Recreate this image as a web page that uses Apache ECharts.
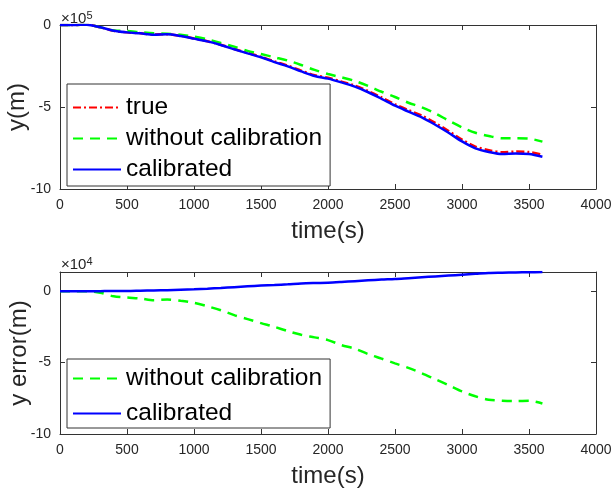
<!DOCTYPE html>
<html>
<head>
<meta charset="utf-8">
<script src="https://cdn.jsdelivr.net/npm/echarts@6/dist/echarts.min.js"></script>
<style>
  html, body { margin: 0; padding: 0; background: #fff; }
  #chart { width: 611px; height: 495px; }
</style>
</head>
<body>
<div id="chart"></div>
<script>
// time axis (s)
const timeSec = [0, 100, 200, 300, 400, 500, 600, 700, 800, 900, 1000, 1100, 1200, 1300, 1400, 1500, 1600, 1700, 1800,
  1900, 2000, 2100, 2200, 2300, 2400, 2500, 2600, 2700, 2800, 2900, 3000, 3100, 3200, 3300, 3400, 3500, 3600];

// y position, units of 1e5 m
const yTrue = [0, 0, 0.02, -0.14, -0.35, -0.45, -0.5, -0.58, -0.56, -0.66, -0.82, -0.99, -1.2, -1.46, -1.7, -1.94, -2.22, -2.48, -2.78,
  -3.06, -3.22, -3.45, -3.7, -4.03, -4.42, -4.84, -5.19, -5.53, -5.97, -6.46, -6.99, -7.42, -7.63, -7.76, -7.72, -7.75, -7.9];
const yNoCalib = [0, 0, 0.02, -0.14, -0.33, -0.37, -0.44, -0.5, -0.53, -0.59, -0.71, -0.87, -1.1, -1.32, -1.58, -1.77, -1.97, -2.17, -2.44,
  -2.74, -2.99, -3.19, -3.41, -3.72, -4.07, -4.39, -4.74, -5.02, -5.39, -5.83, -6.24, -6.57, -6.77, -6.91, -6.91, -6.93, -7.11];
const yCalib = [0, 0, 0.02, -0.14, -0.35, -0.45, -0.51, -0.59, -0.57, -0.67, -0.83, -1.0, -1.22, -1.48, -1.73, -1.97, -2.26, -2.52, -2.83,
  -3.11, -3.27, -3.5, -3.76, -4.1, -4.5, -4.92, -5.28, -5.63, -6.08, -6.57, -7.1, -7.52, -7.74, -7.87, -7.83, -7.87, -8.03];

// y error, units of 1e4 m
const errNoCalib = [0, 0, 0, -0.1, -0.35, -0.44, -0.51, -0.63, -0.58, -0.67, -0.81, -1.05, -1.33, -1.67, -1.95, -2.23, -2.49, -2.79, -3.05,
  -3.23, -3.42, -3.77, -4.02, -4.4, -4.72, -5.05, -5.37, -5.74, -6.16, -6.58, -7.02, -7.36, -7.6, -7.67, -7.7, -7.67, -7.86];
const errCalib = [0, 0, 0, 0.01, 0.02, 0.02, 0.04, 0.06, 0.08, 0.11, 0.14, 0.18, 0.23, 0.29, 0.35, 0.4, 0.44, 0.49, 0.55,
  0.58, 0.6, 0.65, 0.71, 0.77, 0.82, 0.86, 0.92, 0.98, 1.04, 1.1, 1.16, 1.22, 1.28, 1.3, 1.32, 1.33, 1.35];

const xTicks = [0, 500, 1000, 1500, 2000, 2500, 3000, 3500, 4000];
const yTicksTop = [-10, -5, 0];
const yTicksBottom = [-10, -5, 0];

const FONT = 'Liberation Sans, Arial, sans-serif';
const AXIS_COLOR = '#333';
const TEXT_COLOR = '#262626';

const pairs = (ys) => timeSec.map((t, i) => [t, ys[i]]);

const chart = echarts.init(document.getElementById('chart'), null, { renderer: 'canvas' });

function xAxisPair(gridIndex) {
  const base = {
    gridIndex: gridIndex,
    type: 'value',
    min: xTicks[0],
    max: xTicks[xTicks.length - 1],
    interval: 500,
    splitLine: { show: false },
    axisLine: { show: true, onZero: false, lineStyle: { color: AXIS_COLOR, width: 1 } },
    axisTick: { show: true, inside: true, length: 5, lineStyle: { color: AXIS_COLOR } }
  };
  return [
    Object.assign({}, base, {
      position: 'bottom',
      name: 'time(s)',
      nameLocation: 'middle',
      nameGap: 30,
      nameTextStyle: { fontFamily: FONT, fontSize: 24, color: TEXT_COLOR },
      axisLabel: { fontFamily: FONT, fontSize: 14, color: TEXT_COLOR, margin: 9, formatter: v => String(v) }
    }),
    Object.assign({}, base, { position: 'top', axisLabel: { show: false } })
  ];
}

function yAxisPair(gridIndex, min, max, name, nameGap) {
  const base = {
    gridIndex: gridIndex,
    type: 'value',
    min: min,
    max: max,
    interval: 5,
    splitLine: { show: false },
    axisLine: { show: true, onZero: false, lineStyle: { color: AXIS_COLOR, width: 1 } },
    axisTick: { show: true, inside: true, length: 5, lineStyle: { color: AXIS_COLOR } }
  };
  return [
    Object.assign({}, base, {
      position: 'left',
      name: name,
      nameLocation: 'middle',
      nameGap: nameGap,
      nameMoveOverlap: false,
      nameTextStyle: { fontFamily: FONT, fontSize: 24, color: TEXT_COLOR },
      axisLabel: {
        fontFamily: FONT, fontSize: 14, color: TEXT_COLOR, margin: 9,
        formatter: v => (v % 5 === 0 ? String(v) : '')
      }
    }),
    Object.assign({}, base, { position: 'right', axisLabel: { show: false } })
  ];
}

const legendBase = {
  orient: 'vertical',
  left: 67,
  itemWidth: 48,
  itemHeight: 14,
  borderColor: '#333',
  borderWidth: 1,
  backgroundColor: '#fff',
  itemStyle: { opacity: 0 },
  textStyle: { fontFamily: FONT, fontSize: 24.5, lineHeight: 25, color: '#000', padding: [0, 0, 0, 0] }
};

const supText = (p) => ({
  text: '×10{s|' + p + '}',
  rich: { s: { fontSize: 11, fontFamily: FONT, verticalAlign: 'top', padding: [0, 0, 7, 0] } },
  font: '15px ' + FONT,
  fill: TEXT_COLOR
});

const option = {
  animation: false,
  grid: [
    { left: 60, right: 15, top: 25, height: 164, outerBoundsMode: 'none', containLabel: false },
    { left: 60, right: 15, top: 272, height: 162, outerBoundsMode: 'none', containLabel: false }
  ],
  xAxis: [...xAxisPair(0), ...xAxisPair(1)],
  yAxis: [...yAxisPair(0, yTicksTop[0], 0, 'y(m)', 31), ...yAxisPair(1, yTicksBottom[0], 1.35, 'y error(m)', 29)],
  legend: [
    Object.assign({}, legendBase, {
      top: 84, itemGap: 6, padding: [11, 8, 4, 5],
      data: ['true', 'without calibration', 'calibrated']
    }),
    Object.assign({}, legendBase, {
      top: 359, itemGap: 10, padding: [7, 8, 2, 5],
      data: ['without calibration', 'calibrated']
    })
  ],
  graphic: [
    { type: 'text', left: 61, top: 10, style: supText(5) },
    { type: 'text', left: 61, top: 256, style: supText(4) }
  ],
  series: [
    {
      name: 'true', type: 'line', xAxisIndex: 0, yAxisIndex: 0, data: pairs(yTrue),
      showSymbol: false, symbol: 'none', smooth: 0.3,
      lineStyle: { color: '#ff0000', width: 2.5, type: [8, 3, 2, 3] }, itemStyle: { color: '#ff0000' }
    },
    {
      name: 'without calibration', type: 'line', xAxisIndex: 0, yAxisIndex: 0, data: pairs(yNoCalib),
      showSymbol: false, symbol: 'none', smooth: 0.3,
      lineStyle: { color: '#00ff00', width: 2.5, type: [10, 7] }, itemStyle: { color: '#00ff00' }
    },
    {
      name: 'calibrated', type: 'line', xAxisIndex: 0, yAxisIndex: 0, data: pairs(yCalib),
      showSymbol: false, symbol: 'none', smooth: 0.3,
      lineStyle: { color: '#0000ff', width: 2.5, type: 'solid' }, itemStyle: { color: '#0000ff' }
    },
    {
      name: 'without calibration', type: 'line', xAxisIndex: 2, yAxisIndex: 2, data: pairs(errNoCalib),
      showSymbol: false, symbol: 'none', smooth: 0.3,
      lineStyle: { color: '#00ff00', width: 2.5, type: [10, 7] }, itemStyle: { color: '#00ff00' }
    },
    {
      name: 'calibrated', type: 'line', xAxisIndex: 2, yAxisIndex: 2, data: pairs(errCalib),
      showSymbol: false, symbol: 'none', smooth: 0.3,
      lineStyle: { color: '#0000ff', width: 2.5, type: 'solid' }, itemStyle: { color: '#0000ff' }
    }
  ]
};

chart.setOption(option);
</script>
</body>
</html>
